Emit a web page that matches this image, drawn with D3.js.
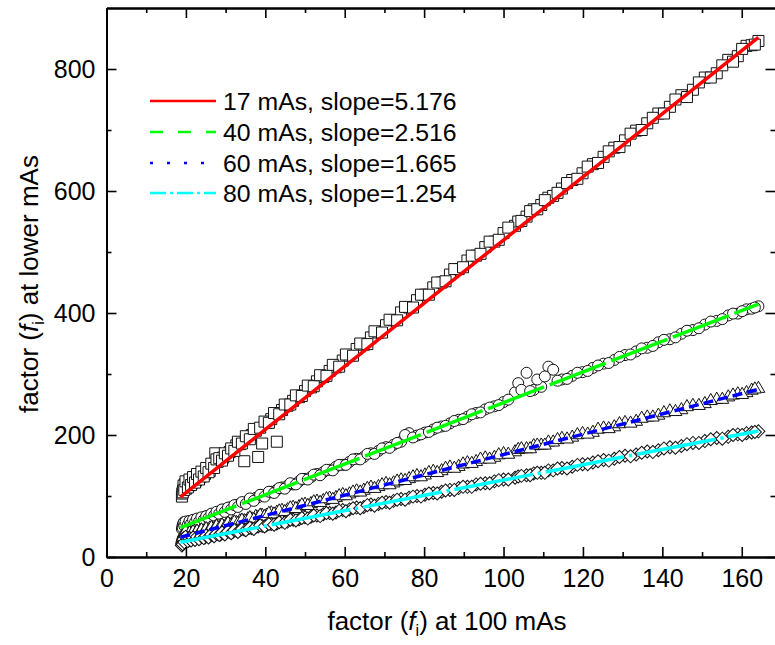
<!DOCTYPE html>
<html>
<head>
<meta charset="utf-8">
<script src="https://cdn.jsdelivr.net/npm/d3@7"></script>
<style>
  body { margin: 0; background: #fff; }
  text { font-family: "Liberation Sans", Arial, sans-serif; fill: #000; }
</style>
</head>
<body>
<svg id="chart" width="775" height="645"></svg>
<script>
// shared x values: factor at 100 mAs (two passes over the plot, read separately)
var xVals = [19.0, 19.1, 19.3, 19.5, 19.7, 20.0, 20.3, 20.7, 21.1, 21.5,
  22.0, 22.5, 23.0, 23.6, 24.2, 24.8, 25.4, 26.0, 26.7, 27.4,
  28.0, 28.7, 29.4, 30.2, 31.0, 31.8, 32.7, 33.6, 34.7, 35.6,
  36.6, 37.6, 38.2, 39.2, 40.3, 41.5, 42.9, 44.2, 45.6, 47.0,
  48.5, 50.0, 51.5, 53.0, 54.6, 56.2, 57.8, 59.5, 61.2, 63.0,
  64.8, 66.6, 68.5, 70.4, 72.3, 74.2, 76.2, 78.2, 80.2, 82.3,
  84.4, 86.5, 88.7, 90.9, 93.1, 95.4, 97.7, 100.0, 102.9, 103.7,
  105.8, 107.6, 109.5, 111.3, 112.5, 114.7, 117.3, 119.9, 122.5, 125.2,
  127.9, 130.6, 133.4, 136.2, 139.0, 141.9, 144.8, 147.7, 150.7, 153.7,
  156.6, 159.0, 161.2, 162.5, 164.2,
  19.2, 19.4, 19.6, 19.9, 20.5, 20.9, 21.3, 21.8, 22.3, 22.8,
  23.3, 23.9, 24.5, 25.1, 25.7, 26.4, 27.1, 27.7, 28.4, 29.1,
  29.8, 30.6, 31.4, 32.2, 33.1, 34.1, 35.1, 36.1, 37.1, 38.7,
  39.8, 40.9, 42.2, 43.5, 44.9, 46.3, 47.7, 49.2, 50.7, 52.2,
  53.8, 55.4, 57.0, 58.6, 60.3, 62.1, 63.9, 65.7, 67.5, 69.4,
  71.3, 73.2, 75.2, 77.2, 79.2, 81.2, 83.3, 85.4, 87.6, 89.8,
  92.0, 94.2, 96.5, 98.8, 101.2, 104.5, 106.7, 108.5, 110.4, 113.6,
  116.0, 118.6, 121.2, 123.8, 126.5, 129.2, 132.0, 134.8, 137.6, 140.4,
  143.3, 146.2, 149.2, 152.2, 155.1, 157.8, 160.1, 163.3];

// factor at lower mAs, one array per series
var y17 = [99, 104, 109, 114, 119, 112, 122, 117, 125, 121,
  128, 125, 133, 131, 138, 136, 144, 141, 150, 170,
  156, 160, 163, 167, 172, 176, 183, 185, 157, 196,
  200, 207, 164, 186, 220, 226, 189, 241, 248, 256,
  262, 272, 278, 288, 295, 305, 311, 322, 330, 341,
  348, 360, 368, 380, 388, 401, 409, 421, 430, 442,
  450, 463, 472, 486, 494, 508, 517, 531, 543, 550,
  558, 570, 577, 589, 592, 604, 618, 629, 644, 656,
  671, 683, 699, 711, 727, 738, 757, 766, 786, 793,
  815, 821, 838, 839, 846,
  106, 117, 110, 124, 114, 127, 118, 131, 122, 136,
  127, 140, 132, 146, 139, 153, 146, 160, 162, 158,
  170, 166, 178, 174, 189, 186, 198, 193, 210, 212,
  222, 220, 236, 234, 250, 250, 265, 264, 281, 280,
  298, 297, 315, 312, 332, 330, 350, 349, 370, 368,
  389, 388, 410, 409, 430, 430, 450, 452, 472, 475,
  494, 497, 517, 520, 540, 551, 567, 570, 585, 597,
  613, 620, 640, 646, 665, 672, 694, 700, 720, 727,
  750, 754, 778, 786, 806, 812, 833, 840];
var y40 = [46, 50, 54, 57, 52, 55, 58, 55, 57, 59,
  58, 61, 60, 63, 63, 66, 66, 69, 70, 72,
  73, 76, 77, 79, 81, 82, 85, 87, 89, 92,
  94, 97, 98, 101, 103, 107, 110, 114, 117, 119,
  124, 128, 131, 136, 139, 143, 148, 151, 156, 161,
  164, 170, 174, 180, 184, 189, 203, 199, 204, 209,
  214, 219, 225, 230, 236, 242, 247, 254, 270, 285,
  302, 274, 279, 312, 307, 291, 297, 303, 310, 317,
  323, 331, 337, 343, 352, 357, 366, 372, 381, 387,
  396, 399, 406, 407, 411,
  48, 56, 51, 58, 53, 59, 55, 61, 57, 63,
  58, 65, 61, 67, 64, 71, 68, 74, 71, 78,
  74, 81, 78, 85, 82, 90, 87, 96, 92, 102,
  99, 107, 105, 113, 112, 121, 119, 128, 127, 135,
  134, 143, 142, 151, 151, 160, 160, 169, 169, 178,
  179, 187, 200, 196, 201, 205, 212, 215, 223, 226,
  234, 237, 245, 249, 258, 274, 272, 291, 296, 289,
  292, 302, 305, 314, 318, 328, 332, 342, 346, 356,
  360, 371, 375, 386, 390, 399, 403, 409];
var y60 = [27, 31, 35, 39, 33, 37, 40, 36, 38, 39,
  38, 41, 40, 43, 42, 45, 44, 47, 46, 49,
  48, 51, 50, 53, 53, 56, 56, 59, 59, 62,
  62, 66, 65, 68, 68, 72, 73, 76, 77, 81,
  82, 86, 87, 91, 92, 96, 97, 102, 103, 108,
  109, 114, 115, 120, 121, 126, 128, 133, 134, 140,
  141, 147, 148, 154, 156, 162, 163, 169, 172, 176,
  177, 182, 183, 188, 188, 194, 196, 202, 204, 211,
  213, 220, 222, 229, 232, 239, 241, 248, 251, 258,
  262, 267, 269, 273, 276,
  29, 37, 34, 41, 34, 39, 35, 41, 37, 42,
  38, 44, 40, 46, 42, 48, 45, 50, 47, 52,
  49, 55, 52, 57, 55, 60, 58, 64, 61, 68,
  66, 71, 70, 75, 74, 80, 79, 85, 84, 90,
  89, 95, 94, 100, 100, 106, 106, 112, 112, 118,
  118, 124, 125, 131, 131, 138, 138, 145, 145, 152,
  153, 160, 160, 167, 168, 177, 177, 183, 183, 192,
  193, 200, 201, 209, 210, 218, 219, 227, 229, 236,
  238, 246, 248, 256, 258, 265, 266, 275];
var y80 = [19, 23, 27, 31, 25, 29, 32, 27, 30, 29,
  31, 30, 32, 31, 33, 32, 35, 34, 36, 36,
  38, 37, 39, 40, 41, 41, 43, 44, 45, 47,
  47, 49, 50, 51, 52, 54, 55, 58, 58, 61,
  62, 65, 66, 68, 70, 72, 73, 77, 78, 81,
  82, 86, 87, 90, 92, 95, 97, 100, 102, 105,
  107, 110, 113, 115, 119, 121, 124, 127, 130, 132,
  134, 137, 138, 142, 142, 146, 148, 152, 155, 159,
  161, 166, 168, 173, 175, 180, 182, 187, 190, 195,
  197, 201, 203, 204, 206,
  21, 29, 24, 33, 26, 31, 27, 32, 28, 33,
  29, 34, 31, 35, 32, 37, 34, 38, 36, 40,
  37, 42, 39, 44, 41, 46, 44, 48, 46, 52,
  50, 54, 53, 57, 56, 61, 60, 64, 63, 68,
  67, 72, 71, 76, 75, 80, 80, 85, 84, 89,
  89, 94, 94, 99, 99, 104, 104, 109, 110, 115,
  115, 120, 121, 126, 127, 133, 134, 138, 138, 145,
  145, 151, 152, 157, 158, 164, 165, 171, 172, 178,
  179, 185, 187, 193, 194, 200, 200, 205];

// linear fits (slopes from the legend, intercepts)
var fitLabels = ["17 mAs, slope=5.176", "40 mAs, slope=2.516", "60 mAs, slope=1.665", "80 mAs, slope=1.254"];
var fitSlopes = [5.176, 2.516, 1.665, 1.254];
var fitIntercepts = [2, 1.5, 1.5, 0.8];
var fitRange = [18.6, 164.2];

var xTicks = [0, 20, 40, 60, 80, 100, 120, 140, 160];
var yTicks = [0, 200, 400, 600, 800];

var seriesY = [y17, y40, y60, y80];
var lineColors = ["#ff0000", "#00ff00", "#0000ff", "#00ffff"];
var plotDash = [null, "60,6", "10,5", "80,5,3,5"];
var legendDash = [null, "13,15", "3,14", "16,4,3,4"];

var svg = d3.select("#chart");

var x = d3.scaleLinear().domain([0, 168.5]).range([106.5, 775.5]);
var y = d3.scaleLinear().domain([0, 900]).range([557, 8]);

var minorX = d3.range(10, 170, 20);
var minorY = d3.range(100, 900, 200);

// --- markers
var symbols = [
  d3.symbol().type(d3.symbolSquare).size(121),
  d3.symbol().type(d3.symbolCircle).size(95),
  d3.symbol().type(d3.symbolTriangle).size(72),
  d3.symbol().type(d3.symbolSquare).size(85)
];

var gPts = svg.append("g");
seriesY.forEach(function(ys, si) {
  gPts.append("g").selectAll("path")
    .data(xVals.map(function(xv, i) { return [xv, ys[i]]; }))
    .enter().append("path")
    .attr("d", symbols[si])
    .attr("transform", function(d) {
      var t = "translate(" + x(d[0]) + "," + y(d[1]) + ")";
      if (si == 3) t += " rotate(45)";
      return t;
    })
    .attr("fill", "#fff")
    .attr("stroke", "#111")
    .attr("stroke-width", 1);
});

// --- fit lines
var line = d3.line().x(function(d) { return x(d[0]); }).y(function(d) { return y(d[1]); });
fitSlopes.forEach(function(s, i) {
  var pts = fitRange.map(function(xv) { return [xv, s * xv + fitIntercepts[i]]; });
  svg.append("path")
    .attr("d", line(pts))
    .attr("fill", "none")
    .attr("stroke", lineColors[i])
    .attr("stroke-width", 3.5)
    .attr("stroke-dasharray", plotDash[i]);
});

// --- axes (ticks point inward)
function styleAxis(g) {
  g.select(".domain").attr("stroke-width", 2);
  g.selectAll(".tick line").attr("stroke-width", 1.6);
  g.selectAll(".tick text").attr("font-size", 25).style("font-family", "Liberation Sans, Arial, sans-serif");
}

svg.append("g").attr("transform", "translate(0,557)")
  .call(d3.axisBottom(x).tickValues(xTicks).tickSize(-10).tickSizeOuter(0).tickPadding(12))
  .call(styleAxis);
svg.append("g").attr("transform", "translate(0,557)")
  .call(d3.axisBottom(x).tickValues(minorX).tickSize(-5).tickFormat("").tickSizeOuter(0))
  .call(styleAxis);

svg.append("g").attr("transform", "translate(0,8)")
  .call(d3.axisTop(x).tickValues(xTicks).tickSize(-10).tickFormat("").tickSizeOuter(0))
  .call(styleAxis);
svg.append("g").attr("transform", "translate(0,8)")
  .call(d3.axisTop(x).tickValues(minorX).tickSize(-5).tickFormat("").tickSizeOuter(0))
  .call(styleAxis);

svg.append("g").attr("transform", "translate(106.5,0)")
  .call(d3.axisLeft(y).tickValues(yTicks).tickSize(-10).tickSizeOuter(0).tickPadding(11))
  .call(styleAxis);
svg.append("g").attr("transform", "translate(106.5,0)")
  .call(d3.axisLeft(y).tickValues(minorY).tickSize(-5).tickFormat("").tickSizeOuter(0))
  .call(styleAxis);

svg.append("g").attr("transform", "translate(775.5,0)")
  .call(d3.axisRight(y).tickValues(yTicks).tickSize(-10).tickFormat("").tickSizeOuter(0))
  .call(styleAxis);
svg.append("g").attr("transform", "translate(775.5,0)")
  .call(d3.axisRight(y).tickValues(minorY).tickSize(-5).tickFormat("").tickSizeOuter(0))
  .call(styleAxis);

// --- axis titles
var xt = svg.append("text").attr("x", 447).attr("y", 630)
  .attr("text-anchor", "middle").attr("font-size", 26);
xt.append("tspan").text("factor (");
xt.append("tspan").attr("font-style", "italic").text("f");
xt.append("tspan").attr("font-size", 16).attr("dy", 6).text("i");
xt.append("tspan").attr("dy", -6).text(") at 100 mAs");

var yt = svg.append("text").attr("transform", "translate(38,284) rotate(-90)")
  .attr("text-anchor", "middle").attr("font-size", 26);
yt.append("tspan").text("factor (");
yt.append("tspan").attr("font-style", "italic").text("f");
yt.append("tspan").attr("font-size", 16).attr("dy", 6).text("i");
yt.append("tspan").attr("dy", -6).text(") at lower mAs");

// --- legend
var legendRows = [101, 132, 163, 193];
fitLabels.forEach(function(lbl, i) {
  svg.append("line")
    .attr("x1", 150).attr("x2", 216)
    .attr("y1", legendRows[i]).attr("y2", legendRows[i])
    .attr("stroke", lineColors[i])
    .attr("stroke-width", 2.5)
    .attr("stroke-dasharray", legendDash[i]);
  svg.append("text")
    .attr("x", 223).attr("y", legendRows[i] + 8.5)
    .attr("font-size", 24.8)
    .text(lbl);
});
</script>
</body>
</html>
